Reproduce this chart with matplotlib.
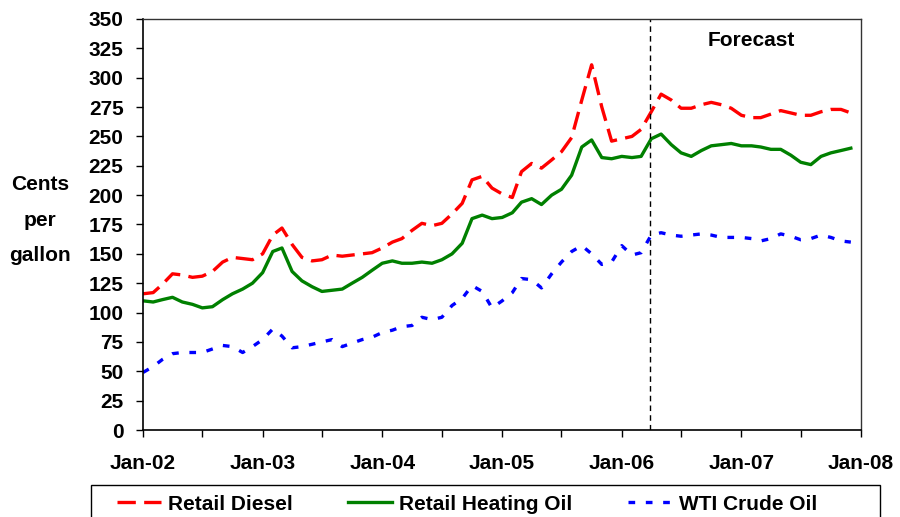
import matplotlib
matplotlib.use("Agg")
import matplotlib.pyplot as plt
import matplotlib.dates as mdates
from matplotlib.patches import Rectangle
import pandas as pd

plt.rcParams['font.family'] = ['Liberation Sans', 'DejaVu Sans']
plt.rcParams['font.weight'] = 'bold'

months = pd.date_range('2002-01-01', periods=72, freq='MS')

retail_diesel = [116, 117, 124, 133, 132, 130, 131, 135, 143, 147, 146, 145,
                 150, 166, 172, 158, 147, 144, 145, 149, 148, 149, 150, 151,
                 155, 160, 163, 170, 176, 174, 176, 184, 193, 213, 216, 206,
                 201, 198, 220, 227, 223, 230, 237, 249, 281, 311, 275, 246,
                 248, 250, 256, 271, 286, 281, 274, 274, 277, 279, 277, 274,
                 268, 266, 266, 269, 272, 270, 268, 268, 271, 273, 273, 270]

retail_heating_oil = [110, 109, 111, 113, 109, 107, 104, 105, 111, 116, 120, 125,
                      134, 152, 155, 135, 127, 122, 118, 119, 120, 125, 130, 136,
                      142, 144, 142, 142, 143, 142, 145, 150, 159, 180, 183, 180,
                      181, 185, 194, 197, 192, 200, 205, 217, 241, 247, 232, 231,
                      233, 232, 233, 248, 252, 243, 236, 233, 238, 242, 243, 244,
                      242, 242, 241, 239, 239, 234, 228, 226, 233, 236, 238, 240]

wti_crude_oil = [49, 54, 60, 65, 66, 66, 66, 69, 72, 71, 66, 71,
                 77, 86, 80, 70, 71, 73, 75, 77, 71, 74, 77, 79,
                 83, 85, 88, 89, 96, 94, 96, 106, 112, 123, 118, 104,
                 110, 117, 129, 128, 121, 133, 143, 152, 157, 150, 141, 143,
                 157, 149, 151, 166, 168, 166, 165, 166, 167, 166, 164, 164,
                 164, 163, 161, 163, 167, 165, 162, 163, 166, 164, 161, 160]

series_labels = ['Retail Diesel', 'Retail Heating Oil', 'WTI Crude Oil']
forecast_start = pd.Timestamp('2006-03-27')
y_ticks = list(range(0, 351, 25))

FS = 15

fig = plt.figure(figsize=(9, 5.17), dpi=100)
ax = fig.add_axes([143/900, 1-430/517, (861-143)/900, (430-19)/517])

lw = 2.4
ax.plot(months, retail_diesel, color='#FF0000', lw=lw, dashes=(5.5, 2.5),
        dash_capstyle='butt', label=series_labels[0])
ax.plot(months, retail_heating_oil, color='#008000', lw=lw, label=series_labels[1])
ax.plot(months, wti_crude_oil, color='#0000FF', lw=lw, dashes=(2.0, 3.2),
        dash_capstyle='butt', label=series_labels[2])

ax.axvline(forecast_start, color='black', lw=1.0, dashes=(4, 3))
ax.text(pd.Timestamp('2007-02-01'), 332, 'Forecast', ha='center', va='center',
        fontsize=FS, fontweight='bold')

ax.set_xlim(pd.Timestamp('2002-01-01'), pd.Timestamp('2008-01-01'))
ax.set_ylim(0, 350)
ax.set_yticks(y_ticks)
ax.xaxis.set_major_locator(mdates.YearLocator())
ax.xaxis.set_major_formatter(mdates.DateFormatter('%b-%y'))
ax.xaxis.set_minor_locator(mdates.MonthLocator(bymonth=[7]))
ax.tick_params(axis='both', which='both', direction='out', length=5, width=1,
               labelsize=FS, color='black')
ax.tick_params(axis='y', pad=9)
ax.tick_params(axis='x', pad=12)
for lab in ax.get_xticklabels() + ax.get_yticklabels():
    lab.set_fontweight('bold')

for s in ['left', 'bottom']:
    ax.spines[s].set_color('black')
    ax.spines[s].set_linewidth(1.2)
for s in ['top', 'right']:
    ax.spines[s].set_color('#333333')
    ax.spines[s].set_linewidth(1.0)

fig.text(40/900, 1-220/517, 'Cents\nper\ngallon', ha='center', va='center',
         fontsize=FS, fontweight='bold', linespacing=2.1)

# legend frame (extends past the bottom edge like the reference)
fig.add_artist(Rectangle((91/900, -0.05), 789/900, 0.05 + (517-485)/517,
                         transform=fig.transFigure, fill=False,
                         edgecolor='black', linewidth=1.0))

leg = fig.legend(loc='center left', bbox_to_anchor=(117/900, 1-504/517),
                 ncol=3, frameon=False, fontsize=FS, handlelength=2.1,
                 handletextpad=0.35, columnspacing=2.65, borderpad=0,
                 borderaxespad=0)
for t in leg.get_texts():
    t.set_fontweight('bold')

fig.savefig('out.png', dpi=100)
